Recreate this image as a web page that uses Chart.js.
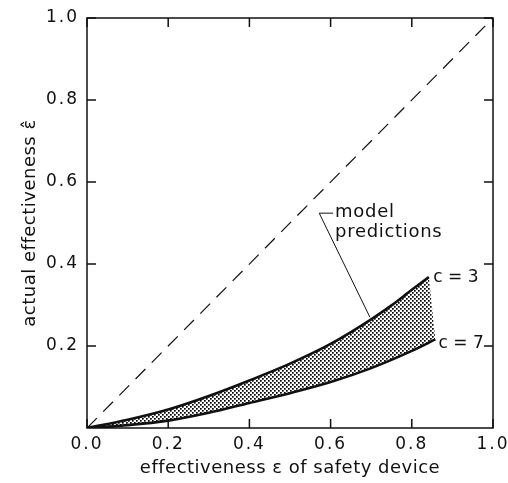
<!DOCTYPE html>
<html>
<head>
<meta charset="utf-8">
<script src="https://cdn.jsdelivr.net/npm/chart.js@4.4.0/dist/chart.umd.min.js"></script>
<style>
  html, body { margin: 0; padding: 0; background: #fff; }
  #wrap { width: 508px; height: 483px; }
</style>
</head>
<body>
<div id="wrap"><canvas id="grafico"></canvas></div>
<script>
// --- dati ---
const xTicks = [0, 0.2, 0.4, 0.6, 0.8, 1.0];
const yTicks = [0.2, 0.4, 0.6, 0.8, 1.0];

// linea tratteggiata (efficacia ideale)
const diagX = [0, 1];
const diagY = [0, 1];

// curva c = 3 (bordo superiore)
const c3X = [0, 0.1, 0.2, 0.3, 0.4, 0.5, 0.6, 0.7, 0.75, 0.8, 0.842];
const c3Y = [0, 0.02, 0.045, 0.078, 0.116, 0.157, 0.205, 0.265, 0.299, 0.337, 0.368];

// curva c = 7 (bordo inferiore)
const c7X = [0, 0.1, 0.2, 0.3, 0.4, 0.5, 0.6, 0.7, 0.8, 0.858];
const c7Y = [0, 0.007, 0.018, 0.037, 0.061, 0.085, 0.112, 0.146, 0.188, 0.216];

const pts = (xs, ys) => xs.map((x, i) => ({ x: x, y: ys[i] }));

const FONT = "'DejaVu Sans', sans-serif";
const INK = '#111';

// Trama puntinata per la zona tra le curve
const pc = document.createElement('canvas');
pc.width = 4; pc.height = 4;
const pctx = pc.getContext('2d');
pctx.fillStyle = '#000';
pctx.fillRect(0, 0, 1.7, 1.7);
pctx.fillRect(2, 2, 1.7, 1.7);
const stipple = pctx.createPattern(pc, 'repeat');

// Bordo superiore della zona puntinata: curva c = 3 chiusa sull'estremo di c = 7
const bandTopX = c3X.concat([c7X[c7X.length - 1]]);
const bandTopY = c3Y.concat([c7Y[c7Y.length - 1]]);

// Spaziatura delle lettere (etichette delle tacche)
const spaziatura = {
  id: 'spaziatura',
  beforeDraw(chart) { chart.ctx.letterSpacing = '2px'; }
};

// Cornice, tacche interne, titoli degli assi e annotazioni
const cornice = {
  id: 'cornice',
  afterDatasetsDraw(chart) {
    const { ctx, chartArea: a, scales: { x, y } } = chart;
    ctx.save();
    ctx.strokeStyle = INK;
    ctx.lineWidth = 1.5;
    ctx.strokeRect(a.left, a.top, a.right - a.left, a.bottom - a.top);
    const L = 9;
    ctx.beginPath();
    xTicks.forEach(v => {
      const px = x.getPixelForValue(v);
      ctx.moveTo(px, a.bottom); ctx.lineTo(px, a.bottom - L);
      ctx.moveTo(px, a.top); ctx.lineTo(px, a.top + L);
    });
    yTicks.forEach(v => {
      const py = y.getPixelForValue(v);
      ctx.moveTo(a.left, py); ctx.lineTo(a.left + L, py);
      ctx.moveTo(a.right, py); ctx.lineTo(a.right - L, py);
    });
    ctx.stroke();

    // linea di richiamo "model predictions"
    ctx.lineWidth = 1;
    ctx.beginPath();
    ctx.moveTo(x.getPixelForValue(0.606), y.getPixelForValue(0.524));
    ctx.lineTo(x.getPixelForValue(0.572), y.getPixelForValue(0.524));
    ctx.lineTo(x.getPixelForValue(0.697), y.getPixelForValue(0.27));
    ctx.stroke();

    ctx.fillStyle = INK;
    ctx.textBaseline = 'middle';

    // titoli degli assi
    ctx.font = '18px ' + FONT;
    ctx.letterSpacing = '0.5px';
    ctx.textAlign = 'center';
    ctx.fillText('effectiveness ε of safety device', (a.left + a.right) / 2, 468);
    ctx.save();
    ctx.translate(30, (a.top + a.bottom) / 2);
    ctx.rotate(-Math.PI / 2);
    ctx.fillText('actual effectiveness ε\u0302', 0, 0);
    ctx.restore();

    // annotazioni
    ctx.textAlign = 'left';
    ctx.letterSpacing = '0.7px';
    ctx.fillText('model', x.getPixelForValue(0.611), y.getPixelForValue(0.527));
    ctx.fillText('predictions', x.getPixelForValue(0.611), y.getPixelForValue(0.477));
    ctx.font = '17px ' + FONT;
    ctx.letterSpacing = '0px';
    ctx.fillText('c = 3', x.getPixelForValue(0.853), y.getPixelForValue(0.368));
    ctx.fillText('c = 7', x.getPixelForValue(0.866), y.getPixelForValue(0.207));
    ctx.restore();
  }
};

const ctx = document.getElementById('grafico').getContext('2d');

new Chart(ctx, {
  type: 'scatter',
  data: {
    datasets: [
      {
        label: 'ideale',
        data: pts(diagX, diagY),
        showLine: true,
        borderColor: INK,
        borderWidth: 1.2,
        borderDash: [14, 9],
        pointRadius: 0,
        fill: false
      },
      {
        label: 'c = 3',
        data: pts(c3X, c3Y),
        showLine: true,
        borderColor: INK,
        borderWidth: 2.6,
        pointRadius: 0,
        cubicInterpolationMode: 'monotone',
        fill: false
      },
      {
        label: 'c = 7',
        data: pts(c7X, c7Y),
        showLine: true,
        borderColor: INK,
        borderWidth: 2.6,
        pointRadius: 0,
        cubicInterpolationMode: 'monotone',
        backgroundColor: stipple,
        fill: 3 // riempie fino al bordo superiore della banda
      },
      {
        label: 'bordo banda',
        data: pts(bandTopX, bandTopY),
        showLine: true,
        borderColor: 'rgba(0,0,0,0)',
        borderWidth: 0,
        pointRadius: 0,
        fill: false
      }
    ]
  },
  options: {
    responsive: true,
    maintainAspectRatio: false,
    animation: false,
    layout: { padding: { top: 18, right: 15, left: 0, bottom: 0 } },
    plugins: {
      legend: { display: false },
      tooltip: { enabled: false }
    },
    scales: {
      x: {
        type: 'linear',
        min: 0, max: 1,
        afterBuildTicks: s => { s.ticks = xTicks.map(v => ({ value: v })); },
        afterFit: s => { s.height = 55; s.paddingLeft = 0; s.paddingRight = 0; },
        grid: { display: false, drawTicks: false },
        border: { display: false },
        ticks: {
          callback: v => v.toFixed(1),
          color: INK,
          font: { family: FONT, size: 17 },
          padding: 6,
          maxRotation: 0,
          autoSkip: false
        },
        title: { display: false }
      },
      y: {
        type: 'linear',
        min: 0, max: 1,
        afterBuildTicks: s => { s.ticks = yTicks.map(v => ({ value: v })); },
        afterFit: s => { s.width = 87; s.paddingTop = 0; s.paddingBottom = 0; },
        grid: { display: false, drawTicks: false },
        border: { display: false },
        ticks: {
          callback: v => v.toFixed(1),
          color: INK,
          font: { family: FONT, size: 17 },
          padding: 8,
          autoSkip: false
        },
        title: { display: false }
      }
    }
  },
  plugins: [spaziatura, cornice]
});
</script>
</body>
</html>
